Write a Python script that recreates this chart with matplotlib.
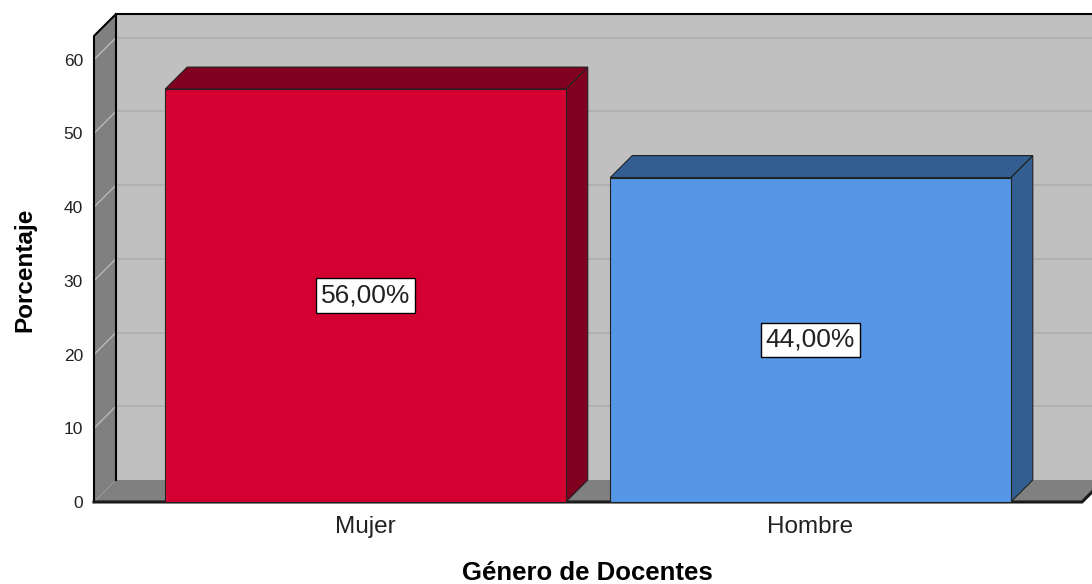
import matplotlib
matplotlib.use("Agg")
import matplotlib.pyplot as plt
from matplotlib.patches import Polygon, Rectangle

plt.rcParams['font.family'] = ['Liberation Sans', 'DejaVu Sans']

categories = ["Mujer", "Hombre"]
values = [56.0, 44.0]
value_labels = ["56,00%", "44,00%"]
yticks = [0, 10, 20, 30, 40, 50, 60]
front_colors = ["#D50032", "#5596E6"]
side_colors = ["#82001F", "#335E91"]

fig = plt.figure(figsize=(10.92, 5.84), dpi=100)
W, H = 1092, 584
left_px, right_px, bottom_px, top_px = 94, 1082, 502, 36
ax = fig.add_axes([left_px / W, (H - bottom_px) / H, (right_px - left_px) / W, (bottom_px - top_px) / H])
xmin, xmax = -0.61, 1.61
ymin, ymax = 0, 63.2
ax.set_xlim(xmin, xmax)
ax.set_ylim(ymin, ymax)
for s in ax.spines.values():
    s.set_visible(False)
ax.patch.set_visible(False)

# depth offsets (in data units, ~22 px)
dx = 22 / ((right_px - left_px) / (xmax - xmin))
dy = 22 / ((bottom_px - top_px) / (ymax - ymin))

wall = "#C0C0C0"
dark = "#808080"

# back wall
ax.add_patch(Rectangle((xmin + dx, dy), (xmax - xmin) + 0.2, ymax, facecolor=wall, edgecolor="none", zorder=1, clip_on=False))
for t in yticks[1:]:
    ax.plot([xmin + dx, xmax + dx + 0.2], [t + dy, t + dy], color="#AEAEAE", lw=1.2, zorder=1.5, clip_on=False)
# left wall
ax.add_patch(Polygon([(xmin, 0), (xmin + dx, dy), (xmin + dx, ymax + dy), (xmin, ymax)], closed=True,
                     facecolor=dark, edgecolor="none", zorder=2, clip_on=False))
for t in yticks[1:]:
    ax.plot([xmin, xmin + dx], [t, t + dy], color="#B8B8B8", lw=1.0, zorder=2.5, clip_on=False)
# floor
ax.add_patch(Polygon([(xmin, 0), (xmax, 0), (xmax + dx, dy), (xmin + dx, dy)], closed=True,
                     facecolor=dark, edgecolor="none", zorder=2, clip_on=False))
# frame edges
ax.plot([xmin + dx, xmin + dx], [dy, ymax + dy], color="black", lw=1.5, zorder=3, clip_on=False)
ax.plot([xmin, xmin, xmin + dx, xmax + dx + 0.2], [0, ymax, ymax + dy, ymax + dy], color="black", lw=1.5, zorder=3, clip_on=False)
ax.plot([xmin, xmax, xmax + dx], [0, 0, dy], color="#1a1a1a", lw=2.2, zorder=3, clip_on=False)

# bars
bw = 0.9
for i, (v, fc, sc) in enumerate(zip(values, front_colors, side_colors)):
    x0 = i - bw / 2
    x1 = i + bw / 2
    ax.add_patch(Polygon([(x1, 0), (x1 + dx, dy), (x1 + dx, v + dy), (x1, v)], closed=True,
                         facecolor=sc, edgecolor="#222222", lw=0.8, zorder=4, clip_on=False))
    ax.add_patch(Polygon([(x0, v), (x0 + dx, v + dy), (x1 + dx, v + dy), (x1, v)], closed=True,
                         facecolor=sc, edgecolor="#222222", lw=0.8, zorder=4, clip_on=False))
    ax.add_patch(Rectangle((x0, 0), bw, v, facecolor=fc, edgecolor="#222222", lw=0.8, zorder=5, clip_on=False))
    ax.text(i, v / 2, value_labels[i], ha="center", va="center", fontsize=19, color="#222222", zorder=6,
            bbox=dict(boxstyle="square,pad=0.2", facecolor="white", edgecolor="black", lw=1.0))

ax.set_yticks(yticks)
ax.set_yticklabels([str(t) for t in yticks], fontsize=12.5, color="#222222")
ax.set_xticks(range(len(categories)))
ax.set_xticklabels(categories, fontsize=17.5, color="#222222")
ax.tick_params(axis="y", length=0, pad=8)
ax.tick_params(axis="x", length=0, pad=10)

fig.text(25 / W, 1 - 270 / H, "Porcentaje", rotation=90, ha="center", va="center",
         fontsize=17.5, fontweight="bold")
fig.text(587 / W, 1 - 580 / H, "Género de Docentes", ha="center", va="baseline",
         fontsize=18.5, fontweight="bold")

fig.savefig("out.png", dpi=100)
